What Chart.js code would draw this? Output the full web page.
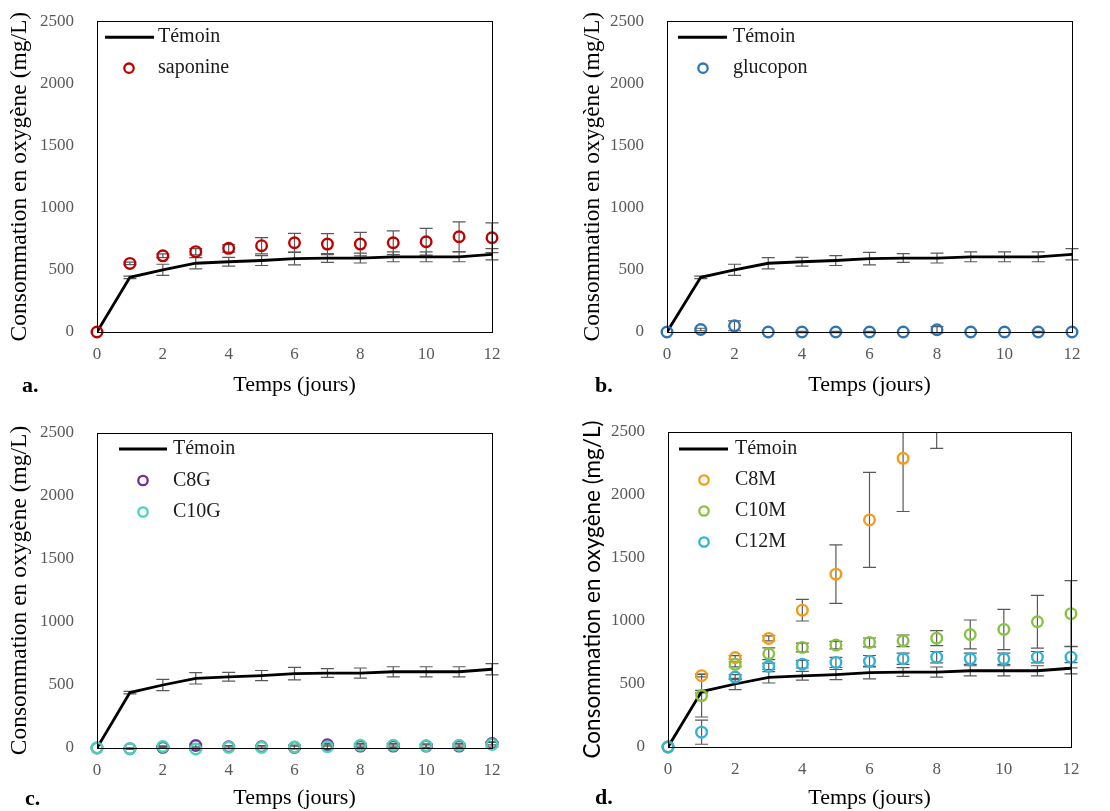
<!DOCTYPE html>
<html>
<head>
<meta charset="utf-8">
<script src="https://cdn.jsdelivr.net/npm/chart.js@4.4.0/dist/chart.umd.min.js"></script>
<style>
  html, body { margin: 0; padding: 0; background: #fff; }
  body { width: 1110px; height: 811px; position: relative; overflow: hidden; }
  .panel { position: absolute; }
  .tag { position: absolute; font: bold 22px 'Liberation Serif', serif; color: #000; line-height: 22px; }
</style>
</head>
<body>
<div class="panel" style="left:0;top:-4px"><canvas id="chartA" width="555" height="404"></canvas></div>
<div class="panel" style="left:555px;top:-4px"><canvas id="chartB" width="555" height="404"></canvas></div>
<div class="panel" style="left:0;top:400px"><canvas id="chartC" width="555" height="411"></canvas></div>
<div class="panel" style="left:555px;top:400px"><canvas id="chartD" width="555" height="411"></canvas></div>
<div class="tag" style="left:22px;top:374px">a.</div>
<div class="tag" style="left:595px;top:374px">b.</div>
<div class="tag" style="left:25px;top:787px">c.</div>
<div class="tag" style="left:595px;top:786px">d.</div>

<script>
// Data (mg/L O2 vs days)
const days = [0, 1, 2, 3, 4, 5, 6, 7, 8, 9, 10, 11, 12];

const temoin    = [0, 440, 500, 553, 565, 575, 590, 595, 595, 605, 605, 605, 625];
const temoinErr = [0, 10, 45, 45, 35, 40, 50, 35, 40, 40, 40, 40, 45];

const saponine    = [0, 552, 613, 646, 673, 694, 718, 707, 707, 718, 726, 766, 758];
const saponineErr = [0, 10, 15, 25, 30, 65, 75, 85, 95, 95, 107, 120, 120];

const glucopon    = [0, 20, 50, 0, 0, 0, 0, 0, 18, 0, 0, 0, 0];
const glucoponErr = [0, 10, 40, 0, 5, 5, 5, 0, 25, 0, 0, 5, 0];

const c8g     = [0, -5, 5, 20, 10, 10, 5, 25, 15, 15, 15, 15, 35];
const c8gErr  = [0, 5, 5, 10, 10, 10, 10, 10, 10, 10, 10, 10, 10];
const c10g    = [0, -5, 12, -8, 5, 5, 8, 10, 22, 22, 18, 22, 28];
const c10gErr = [0, 5, 5, 10, 10, 10, 15, 15, 15, 15, 15, 15, 20];

const c8m     = [0, 566, 710, 862, 1086, 1372, 1802, 2291, 2800, null, null, null, null];
const c8mErr  = [0, 10, 15, 20, 86, 232, 377, 422, 430, null, null, null, null];
const c10m    = [0, 408, 656, 740, 790, 809, 830, 843, 864, 893, 933, 994, 1058];
const c10mErr = [0, 170, 20, 47, 35, 30, 35, 46, 60, 115, 160, 210, 262];
const c12m    = [0, 118, 555, 640, 657, 671, 681, 700, 713, 700, 700, 713, 713];
const c12mErr = [0, 96, 20, 25, 30, 40, 45, 45, 45, 45, 45, 45, 85];

const xTicks = [0, 2, 4, 6, 8, 10, 12];
const yTicks = [0, 500, 1000, 1500, 2000, 2500];

Chart.defaults.font.family = "'Liberation Serif', serif";
Chart.defaults.color = '#595959';

function pts(vals) {
    return days.map((d, i) => ({ x: d, y: vals[i] }));
}

function temoinSet() {
    return {
        label: 'Témoin', data: pts(temoin), errors: temoinErr,
        showLine: true, borderColor: '#000', borderWidth: 2.8,
        pointRadius: 0, order: 10, kind: 'line'
    };
}

// later series sit on top, as in the original spreadsheet chart
function markerSet(label, vals, errs, color, order) {
    return {
        label: label, data: pts(vals), errors: errs,
        showLine: false, borderColor: color, backgroundColor: 'rgba(0,0,0,0)',
        pointRadius: 5.3, pointBorderWidth: 2.4, order: order, kind: 'marker',
        clip: { left: 8, right: 8, bottom: 8, top: 0 }
    };
}

// error bars drawn through the chart's own scales
const errorBars = {
    id: 'errorBars',
    beforeDatasetsDraw(chart) {
        const { ctx, chartArea, scales } = chart;
        ctx.save();
        ctx.beginPath();
        ctx.rect(chartArea.left - 10, chartArea.top, chartArea.width + 20, chartArea.height + 20);
        ctx.clip();
        ctx.strokeStyle = '#595959';
        ctx.lineWidth = 1.2;
        chart.data.datasets.forEach(ds => {
            if (!ds.errors) return;
            ds.data.forEach((p, i) => {
                const e = ds.errors[i];
                if (p.y == null || !e) return;
                const x = scales.x.getPixelForValue(p.x);
                const yTop = scales.y.getPixelForValue(p.y + e);
                const yBot = scales.y.getPixelForValue(p.y - e);
                ctx.beginPath();
                ctx.moveTo(x, yTop); ctx.lineTo(x, yBot);
                ctx.moveTo(x - 6.5, yTop); ctx.lineTo(x + 6.5, yTop);
                ctx.moveTo(x - 6.5, yBot); ctx.lineTo(x + 6.5, yBot);
                ctx.stroke();
            });
        });
        ctx.restore();
    }
};

// box frame + legend inside the plot
const frameLegend = {
    id: 'frameLegend',
    afterDraw(chart, args, opts) {
        const { ctx, chartArea } = chart;
        ctx.save();
        ctx.strokeStyle = '#000';
        ctx.lineWidth = 1;
        ctx.strokeRect(Math.round(chartArea.left) + 0.5, Math.round(chartArea.top) + 0.5,
            Math.round(chartArea.width), Math.round(chartArea.height));

        ctx.font = "20px 'Liberation Serif', serif";
        ctx.textBaseline = 'middle';
        chart.data.datasets.forEach((ds, i) => {
            const y = chartArea.top + opts.y0 + i * opts.step;
            if (ds.kind === 'line') {
                ctx.strokeStyle = '#000';
                ctx.lineWidth = 3;
                ctx.beginPath();
                ctx.moveTo(chartArea.left + opts.l0, y);
                ctx.lineTo(chartArea.left + opts.l1, y);
                ctx.stroke();
            } else {
                ctx.strokeStyle = ds.borderColor;
                ctx.lineWidth = 2.3;
                ctx.beginPath();
                ctx.arc(chartArea.left + opts.mx, y, 4.7, 0, Math.PI * 2);
                ctx.stroke();
            }
            ctx.fillStyle = '#1a1a1a';
            ctx.fillText(ds.label, chartArea.left + opts.tx, y);
        });
        ctx.restore();
    }
};

function makeChart(id, datasets, lay) {
    return new Chart(document.getElementById(id), {
        type: 'scatter',
        data: { datasets: datasets },
        options: {
            responsive: false,
            animation: false,
            layout: { padding: { top: lay.top, right: lay.right, left: 0, bottom: 0 } },
            plugins: {
                legend: { display: false },
                tooltip: { enabled: false },
                frameLegend: lay.legend
            },
            scales: {
                x: {
                    type: 'linear', min: 0, max: 12,
                    grid: { display: false },
                    border: { display: false },
                    afterBuildTicks: s => { s.ticks = xTicks.map(v => ({ value: v })); },
                    ticks: { font: { size: 17 }, padding: 4, color: '#595959', callback: v => String(v) },
                    title: {
                        display: true, text: 'Temps (jours)', color: '#000',
                        font: { size: 22 }, padding: { top: 0, bottom: lay.xtPad }
                    },
                    afterFit: s => { s.height = lay.xh; }
                },
                y: {
                    type: 'linear', min: 0, max: 2500,
                    grid: { display: false },
                    border: { display: false },
                    afterBuildTicks: s => { s.ticks = yTicks.map(v => ({ value: v })); },
                    ticks: { font: { size: 17 }, padding: 15, color: '#595959', callback: v => String(v) },
                    title: {
                        display: true, text: 'Consommation en oxygène (mg/L)', color: '#000',
                        font: lay.ytFont, padding: { top: lay.ytPad, bottom: 0 }
                    },
                    afterFit: s => { s.width = lay.yw; }
                }
            }
        },
        plugins: [errorBars, frameLegend]
    });
}

const serifTitle = { size: 23.5, family: "'Liberation Serif', serif" };

makeChart('chartA', [
    temoinSet(),
    markerSet('saponine', saponine, saponineErr, '#C00000', 0)
], { top: 25, right: 63, yw: 97, xh: 68, xtPad: 2, ytPad: 6, ytFont: serifTitle,
     legend: { l0: 8, l1: 57, mx: 32, tx: 61, y0: 16, step: 31 } });

makeChart('chartB', [
    temoinSet(),
    markerSet('glucopon', glucopon, glucoponErr, '#2E75B6', 0)
], { top: 25, right: 38, yw: 112, xh: 68, xtPad: 2, ytPad: 24, ytFont: serifTitle,
     legend: { l0: 11, l1: 60, mx: 36, tx: 66, y0: 16, step: 31 } });

makeChart('chartC', [
    temoinSet(),
    markerSet('C8G', c8g, c8gErr, '#7030A0', 0),
    markerSet('C10G', c10g, c10gErr, '#48D4B4', -1)
], { top: 33, right: 63, yw: 97, xh: 63, xtPad: 0, ytPad: 6, ytFont: serifTitle,
     legend: { l0: 22, l1: 70, mx: 46, tx: 76, y0: 16, step: 31.5 } });

makeChart('chartD', [
    temoinSet(),
    markerSet('C8M', c8m, c8mErr, '#F39C1A', 0),
    markerSet('C10M', c10m, c10mErr, '#86C440', -1),
    markerSet('C12M', c12m, c12mErr, '#2FB3D9', -2)
], { top: 32, right: 39, yw: 113, xh: 64, xtPad: 0, ytPad: 24,
     ytFont: { size: 22.5, family: "Lato, 'Liberation Sans', sans-serif" },
     legend: { l0: 11, l1: 60, mx: 36, tx: 67, y0: 17, step: 31 } });
</script>
</body>
</html>
